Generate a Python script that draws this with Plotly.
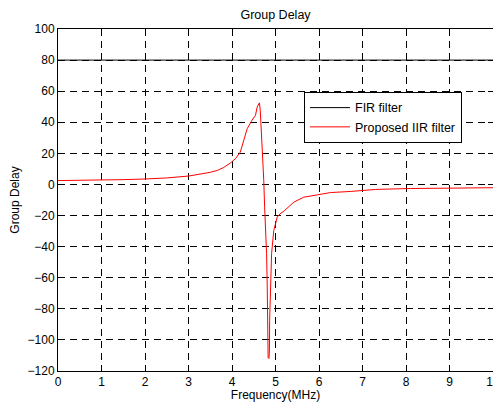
import plotly.graph_objects as go

fir_freq = [0, 10]
fir_delay = [80, 80]

iir_freq = [0, 0.5, 1, 1.5, 2, 2.5, 3, 3.27, 3.5, 3.66, 3.8, 3.96, 4.08, 4.19, 4.27,
            4.35, 4.46, 4.54, 4.58, 4.63, 4.65, 4.68, 4.71, 4.73, 4.75, 4.78, 4.795,
            4.81, 4.815, 4.82, 4.83, 4.85, 4.86, 4.865, 4.88, 4.91, 4.96, 5.01, 5.04,
            5.1, 5.2, 5.42, 5.65, 5.96, 6.27, 6.73, 7.3, 8.1, 9, 10]
iir_delay = [2.5, 2.6, 2.8, 3.1, 3.5, 4.2, 5.4, 6.5, 7.8, 9, 10.8, 13.7, 16.6, 20.8, 28.4,
             35.9, 41.3, 44.5, 49.9, 52.5, 47.7, 32.7, 17.6, 2.6, -14.6, -29.7, -44.5,
             -66, -87.7, -102.6, -111.4, -112, -107, -87.7, -66, -44.5, -29.7, -23, -21,
             -19, -17, -11.4, -8.2, -6.7, -5.2, -4.5, -3.2, -2.6, -2.3, -2.1]

x_ticks = [0, 1, 2, 3, 4, 5, 6, 7, 8, 9, 10]
y_ticks = [100, 80, 60, 40, 20, 0, -20, -40, -60, -80, -100, -120]

font = "Liberation Sans, Arial, sans-serif"

fig = go.Figure()
fig.add_trace(go.Scatter(x=fir_freq, y=fir_delay, mode="lines", name="FIR filter",
                         line=dict(color="black", width=1)))
fig.add_trace(go.Scatter(x=iir_freq, y=iir_delay, mode="lines", name="Proposed IIR filter",
                         line=dict(color="red", width=1)))

axis_common = dict(showline=True, linecolor="black", linewidth=1, mirror="allticks",
                   ticks="inside", ticklen=5, tickcolor="black", automargin=False,
                   ticklabeloverflow="allow",
                   showgrid=True, gridcolor="black", gridwidth=1, griddash="7px,5px",
                   zeroline=False, tickfont=dict(family=font, size=12, color="black"))

fig.update_xaxes(range=[0, 10], tickvals=x_ticks,
                 title=dict(text="Frequency(MHz)", standoff=4,
                            font=dict(family=font, size=12, color="black")),
                 **axis_common)
fig.update_yaxes(range=[-120, 100], tickvals=y_ticks,
                 title=dict(text="Group Delay", standoff=6,
                            font=dict(family=font, size=12, color="black")),
                 **axis_common)

# page body has an 8px margin, so the figure is sized and placed to compensate
fig.update_layout(
    width=493, height=394,
    margin=dict(l=50, r=8, t=21, b=31),
    paper_bgcolor="white", plot_bgcolor="white",
    title=dict(text="Group Delay", xref="paper", x=0.5, xanchor="center",
               y=1 - 6.5 / 394, yanchor="middle",
               font=dict(family=font, size=12.5, color="black")),
    legend=dict(x=0.5655, y=0.8158, xanchor="left", yanchor="top",
                bgcolor="white", bordercolor="black", borderwidth=1,
                font=dict(family=font, size=12.5, color="black"),
                itemwidth=40, tracegroupgap=0),
    showlegend=True,
)

fig.write_html("out.html")
